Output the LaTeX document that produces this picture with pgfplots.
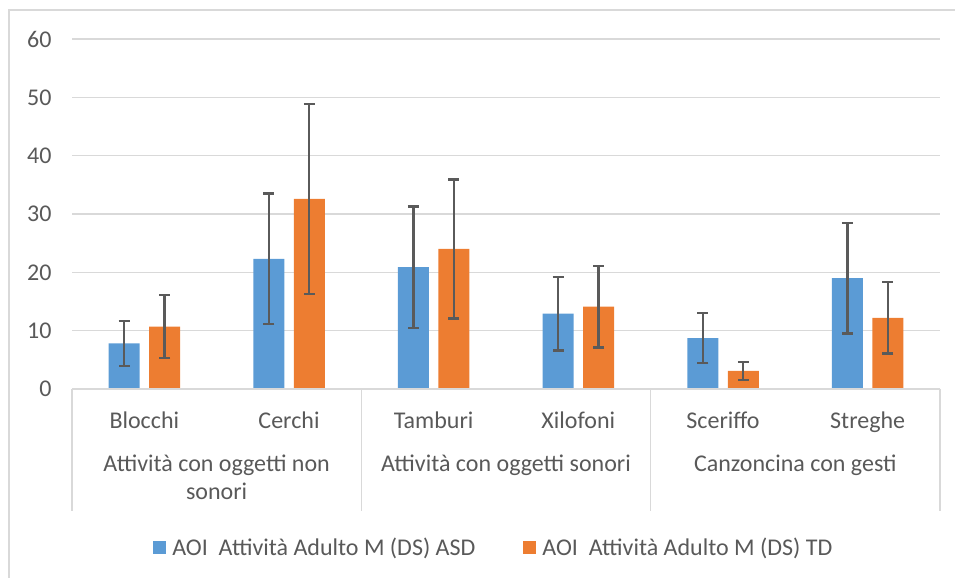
\documentclass[border=0pt]{standalone}
\usepackage{fontspec}
\setmainfont{Carlito}
\usepackage{pgfplots}
\pgfplotsset{compat=1.18}
\definecolor{asd}{HTML}{5B9BD5}
\definecolor{td}{HTML}{ED7D31}
\definecolor{txt}{HTML}{595959}
\definecolor{grd}{HTML}{D9D9D9}
\definecolor{errc}{HTML}{5A5A5A}
\begin{document}
\begin{tikzpicture}[font=\fontsize{24bp}{29bp}\selectfont, x=1bp, y=1bp]
\useasboundingbox (0,0) rectangle (955,578);
\draw[grd, line width=1.3bp] (9,0) -- (9,568) -- (955,568);
\begin{axis}[
  at={(72bp,189bp)}, anchor=south west,
  scale only axis, width=868bp, height=350bp,
  ybar=9.5bp, bar width=31bp,
  xmin=-0.5, xmax=5.5, ymin=0, ymax=60,
  ytick={0,10,...,60},
  xtick={0,1,2,3,4,5},
  xticklabels={Blocchi,Cerchi,Tamburi,Xilofoni,Sceriffo,Streghe},
  major tick length=0pt,
  axis line style={draw=none},
  ymajorgrids, grid style={grd, line width=1.3bp},
  tick label style={text=txt},
  /pgf/number format/assume math mode=true,
  yticklabel style={xshift=-17bp},
  xticklabel style={yshift=-19bp},
  legend style={at={(0.486,-0.454)}, anchor=center, legend columns=2, draw=none,
    text=txt, /tikz/every even column/.append style={column sep=46bp}},
  legend image code/.code={\fill[#1] (0bp,-6.5bp) rectangle (13bp,6.5bp); \path (17bp,0bp);},
  clip=false,
]
\addplot[fill=asd, draw=none, error bars/.cd, y dir=both, y explicit,
  error bar style={errc, line width=2.2bp}, error mark options={rotate=90, errc, line width=2.2bp, mark size=5.5bp}]
  coordinates {
  (0,7.8) +- (0,3.9)
  (1,22.3) +- (0,11.2)
  (2,20.9) +- (0,10.4)
  (3,12.9) +- (0,6.3)
  (4,8.7) +- (0,4.3)
  (5,19.0) +- (0,9.5)
  };
\addplot[fill=td, draw=none, error bars/.cd, y dir=both, y explicit,
  error bar style={errc, line width=2.2bp}, error mark options={rotate=90, errc, line width=2.2bp, mark size=5.5bp}]
  coordinates {
  (0,10.7) +- (0,5.35)
  (1,32.6) +- (0,16.3)
  (2,24.0) +- (0,11.9)
  (3,14.1) +- (0,7.0)
  (4,3.1) +- (0,1.5)
  (5,12.2) +- (0,6.1)
  };
\legend{AOI\ \ Attività Adulto M (DS) ASD, AOI\ \ Attività Adulto M (DS) TD}
\draw[grd, line width=1.3bp] (axis cs:-0.5,0) -- (axis cs:5.5,0);
\draw[grd, line width=1.3bp] (axis cs:-0.5,0) -- ++(0bp,-122bp);
\draw[grd, line width=1.3bp] (axis cs:1.5,0) -- ++(0bp,-122bp);
\draw[grd, line width=1.3bp] (axis cs:3.5,0) -- ++(0bp,-122bp);
\draw[grd, line width=1.3bp] (axis cs:5.5,0) -- ++(0bp,-122bp);
\node[text=txt, align=center, anchor=north, font=\fontsize{24bp}{28bp}\selectfont] at ([yshift=-62bp]axis cs:0.5,0) {Attività con oggetti non\\sonori};
\node[text=txt, anchor=north, font=\fontsize{24bp}{28bp}\selectfont] at ([yshift=-62bp]axis cs:2.5,0) {Attività con oggetti sonori};
\node[text=txt, anchor=north, font=\fontsize{24bp}{28bp}\selectfont] at ([yshift=-62bp]axis cs:4.5,0) {Canzoncina con gesti};
\end{axis}
\end{tikzpicture}
\end{document}
